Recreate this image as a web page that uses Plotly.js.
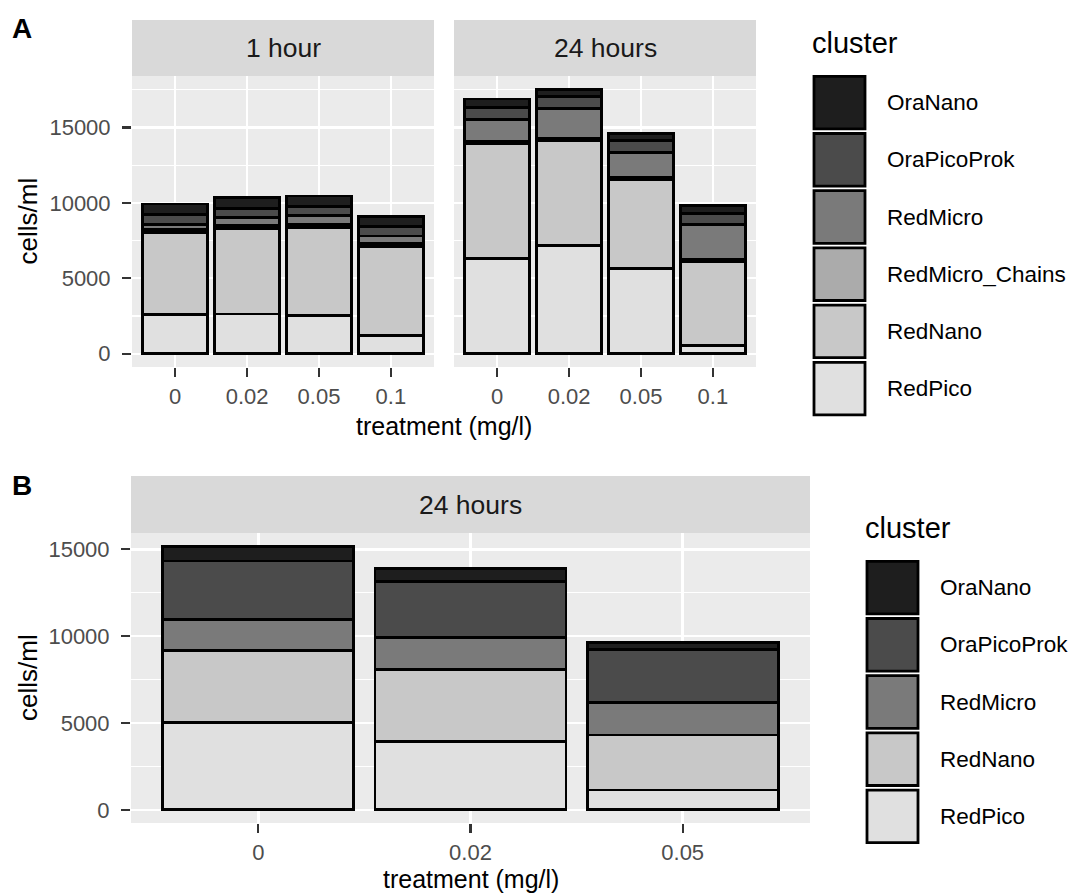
<!DOCTYPE html>
<html>
<head>
<meta charset="utf-8">
<script src="https://cdn.plot.ly/plotly-3.0.1.min.js"></script>
<style>html,body{margin:0;padding:0;background:#fff;}#chart{width:1072px;height:896px;}</style>
</head>
<body>
<div id="chart"></div>
<script>
// ---------- data ----------
const treatA = ['0', '0.02', '0.05', '0.1'];
const treatB = ['0', '0.02', '0.05'];

const clustersA = ['OraNano', 'OraPicoProk', 'RedMicro', 'RedMicro_Chains', 'RedNano', 'RedPico'];
const clustersB = ['OraNano', 'OraPicoProk', 'RedMicro', 'RedNano', 'RedPico'];

// Panel A, 1 hour (cells/ml)
const h1_RedPico        = [2580, 2630, 2540, 1190];
const h1_RedNano        = [5480, 5690, 5820, 5910];
const h1_RedMicroChains = [150, 160, 230, 230];
const h1_RedMicro       = [380, 570, 550, 480];
const h1_OraPicoProk    = [660, 600, 610, 620];
const h1_OraNano        = [680, 730, 710, 660];

// Panel A, 24 hours
const h24_RedPico        = [6290, 7170, 5630, 530];
const h24_RedNano        = [7660, 6960, 5940, 5580];
const h24_RedMicroChains = [130, 130, 110, 160];
const h24_RedMicro       = [1450, 2010, 1650, 2270];
const h24_OraPicoProk    = [780, 770, 780, 780];
const h24_OraNano        = [580, 490, 500, 480];

// Panel B, 24 hours
const b_RedPico     = [5030, 3930, 1140];
const b_RedNano     = [4140, 4140, 3170];
const b_RedMicro    = [1780, 1870, 1850];
const b_OraPicoProk = [3380, 3190, 3090];
const b_OraNano     = [840, 760, 380];

const fillColors = {
  OraNano: '#1e1e1e',
  OraPicoProk: '#4b4b4b',
  RedMicro: '#7a7a7a',
  RedMicro_Chains: '#ababab',
  RedNano: '#c8c8c8',
  RedPico: '#e0e0e0'
};

// ---------- helpers ----------
const W = 1072, H = 896;
const px = x => x / W;
const py = y => 1 - y / H;
const FONT = '"Liberation Sans", Arial, sans-serif';

function bar(name, x, y, xa, ya) {
  return {
    type: 'bar', name: name, x: x, y: y, xaxis: xa, yaxis: ya,
    marker: { color: fillColors[name], line: { color: '#000000', width: 2.8 } },
    showlegend: false, hoverinfo: 'x+y+name'
  };
}

const data = [
  bar('RedPico', treatA, h1_RedPico, 'x', 'y'),
  bar('RedNano', treatA, h1_RedNano, 'x', 'y'),
  bar('RedMicro_Chains', treatA, h1_RedMicroChains, 'x', 'y'),
  bar('RedMicro', treatA, h1_RedMicro, 'x', 'y'),
  bar('OraPicoProk', treatA, h1_OraPicoProk, 'x', 'y'),
  bar('OraNano', treatA, h1_OraNano, 'x', 'y'),

  bar('RedPico', treatA, h24_RedPico, 'x2', 'y2'),
  bar('RedNano', treatA, h24_RedNano, 'x2', 'y2'),
  bar('RedMicro_Chains', treatA, h24_RedMicroChains, 'x2', 'y2'),
  bar('RedMicro', treatA, h24_RedMicro, 'x2', 'y2'),
  bar('OraPicoProk', treatA, h24_OraPicoProk, 'x2', 'y2'),
  bar('OraNano', treatA, h24_OraNano, 'x2', 'y2'),

  bar('RedPico', treatB, b_RedPico, 'x3', 'y3'),
  bar('RedNano', treatB, b_RedNano, 'x3', 'y3'),
  bar('RedMicro', treatB, b_RedMicro, 'x3', 'y3'),
  bar('OraPicoProk', treatB, b_OraPicoProk, 'x3', 'y3'),
  bar('OraNano', treatB, b_OraNano, 'x3', 'y3')
];

const tickFont = { family: FONT, size: 22, color: '#4d4d4d' };

function xAxis(domain, anchor, ncat) {
  return {
    domain: domain, anchor: anchor, type: 'category',
    range: [-0.6, ncat - 0.4],
    showgrid: true, gridcolor: '#ffffff', gridwidth: 2.4,
    ticks: 'outside', ticklen: 9, tickwidth: 2.2, tickcolor: '#333333',
    tickfont: tickFont, ticklabelstandoff: 1,
    zeroline: false, showline: false, fixedrange: true
  };
}
function yAxis(domain, anchor, range, labels) {
  return {
    domain: domain, anchor: anchor, range: range,
    tickvals: [0, 5000, 10000, 15000], ticktext: ['0', '5000', '10000', '15000'],
    showgrid: true, gridcolor: '#ffffff', gridwidth: 2.4,
    minor: { tickvals: [2500, 7500, 12500, 17500], showgrid: true, gridcolor: '#ffffff', gridwidth: 1.1 },
    ticks: labels ? 'outside' : '', ticklen: 9, tickwidth: 2.2, tickcolor: '#333333',
    showticklabels: labels, tickfont: tickFont, ticklabelstandoff: 7,
    zeroline: false, showline: false, fixedrange: true
  };
}

const A_top = 76, A_bot = 367, B_top = 533, B_bot = 823;
const A1 = [132, 434], A2 = [454, 756], B1 = [131, 810];

const layout = {
  width: W, height: H,
  margin: { l: 0, r: 0, t: 0, b: 0 },
  paper_bgcolor: '#ffffff', plot_bgcolor: '#ebebeb',
  barmode: 'stack', bargap: 0.1,
  font: { family: FONT },
  xaxis: xAxis([px(A1[0]), px(A1[1])], 'y', 4),
  yaxis: yAxis([py(A_bot), py(A_top)], 'x', [-880, 18410], true),
  xaxis2: xAxis([px(A2[0]), px(A2[1])], 'y2', 4),
  yaxis2: yAxis([py(A_bot), py(A_top)], 'x2', [-880, 18410], false),
  xaxis3: xAxis([px(B1[0]), px(B1[1])], 'y3', 3),
  yaxis3: yAxis([py(B_bot), py(B_top)], 'x3', [-760, 15940], true),
  shapes: [],
  annotations: []
};

function addStrip(x0, x1, y0, y1, text) {
  layout.shapes.push({ type: 'rect', xref: 'paper', yref: 'paper',
    x0: px(x0), x1: px(x1), y0: py(y1), y1: py(y0),
    fillcolor: '#d9d9d9', line: { width: 0 }, layer: 'below' });
  layout.annotations.push({ xref: 'paper', yref: 'paper', x: px((x0 + x1) / 2), y: py((y0 + y1) / 2),
    text: text, showarrow: false, xanchor: 'center', yanchor: 'middle',
    font: { family: FONT, size: 26.5, color: '#1a1a1a' } });
}
addStrip(A1[0], A1[1], 20, A_top, '1 hour');
addStrip(A2[0], A2[1], 20, A_top, '24 hours');
addStrip(B1[0], B1[1], 476, B_top, '24 hours');

function addText(x, y, text, size, opts) {
  layout.annotations.push(Object.assign({ xref: 'paper', yref: 'paper', x: px(x), y: py(y),
    text: text, showarrow: false, xanchor: 'center', yanchor: 'middle',
    font: { family: FONT, size: size, color: '#000000' } }, opts || {}));
}
// panel tags
addText(22, 29, '<b>A</b>', 28);
addText(22, 485, '<b>B</b>', 28);
// axis titles
addText(28, (A_top + A_bot) / 2, 'cells/ml', 26, { textangle: -90 });
addText(28, (B_top + B_bot) / 2, 'cells/ml', 26, { textangle: -90 });
addText((A1[0] + A2[1]) / 2, 426, 'treatment (mg/l)', 25);
addText((B1[0] + B1[1]) / 2, 879, 'treatment (mg/l)', 25);

// legends
function addLegend(names, x0, titleY, top) {
  addText(x0 - 2, titleY, 'cluster', 29, { xanchor: 'left' });
  const kw = 55, kh = 57.2;
  names.forEach((n, i) => {
    const y0 = top + kh * i;
    layout.shapes.push({ type: 'rect', xref: 'paper', yref: 'paper',
      x0: px(x0 + 2), x1: px(x0 + kw - 2), y0: py(y0 + kh - 2.3), y1: py(y0 + 2.3),
      fillcolor: fillColors[n], line: { color: '#000000', width: 2.8 } });
    addText(x0 + kw + 18, y0 + kh / 2, n, 22.5, { xanchor: 'left' });
  });
}
addLegend(clustersA, 812, 43, 74);
addLegend(clustersB, 865, 528, 559);

Plotly.newPlot('chart', data, layout, { displayModeBar: false, staticPlot: true });
</script>
</body>
</html>
